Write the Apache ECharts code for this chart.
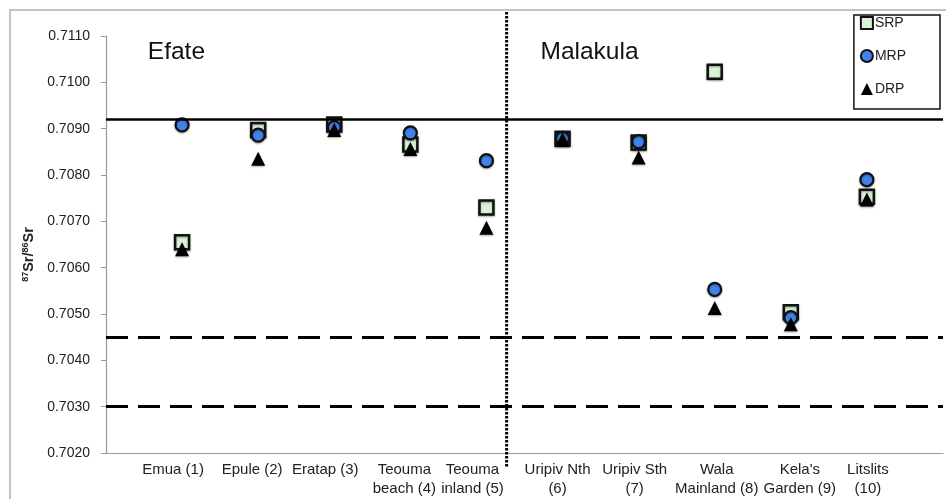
<!DOCTYPE html>
<html>
<head>
<meta charset="utf-8">
<script src="https://cdn.jsdelivr.net/npm/echarts@6/dist/echarts.min.js"></script>
<style>
html,body{margin:0;padding:0;background:#fff;}
#main{width:946px;height:499px;}
</style>
</head>
<body>
<div id="main"></div>
<script>
// ---- data ----
const categories = ['Emua (1)', 'Epule (2)', 'Eratap (3)', 'Teouma\nbeach (4)', 'Teouma\ninland (5)',
  'Uripiv Nth\n(6)', 'Uripiv Sth\n(7)', 'Wala\nMainland (8)', "Kela's\nGarden (9)", 'Litslits\n(10)'];
const srp = [0.70655, 0.70897, 0.70909, 0.70866, 0.70730, 0.70878, 0.70870, 0.71023, 0.70504, 0.70753];
const mrp = [0.70908, 0.70886, 0.70903, 0.70891, 0.70831, 0.70879, 0.70872, 0.70553, 0.70492, 0.70790];
const drp = [0.70640, 0.70835, 0.70897, 0.70856, 0.70686, 0.70877, 0.70838, 0.70513, 0.70478, 0.70747];
const seawaterLine = 0.7092;
const dashedLines = [0.7045, 0.7030];
const separatorX = 5.265;
const regionLabels = [{ text: 'Efate', x: 0.55 }, { text: 'Malakula', x: 5.71 }];

// label horizontal nudges (px), style only
const labelNudge = [-9, -6, -9, -6, -14, -5, -4, 2, 9, 1];

const font = 'Arial, "Liberation Sans", Helvetica, sans-serif';
const pts = arr => arr.map((v, i) => [i + 1, v]);

const labelRich = {};
labelNudge.forEach((d, i) => {
  labelRich['s' + i] = {
    fontSize: 15, color: '#222', fontFamily: font, lineHeight: 19,
    padding: d < 0 ? [0, -2 * d, 0, 0] : [0, 0, 0, 2 * d]
  };
});

const chart = echarts.init(document.getElementById('main'));
const option = {
  animation: false,
  backgroundColor: '#fff',
  textStyle: { fontFamily: font },
  grid: { left: 106, right: 1, top: 36, bottom: 46 },
  legend: {
    orient: 'vertical',
    right: 6, top: 15,
    padding: [1, 34, 13, 6],
    itemGap: 19,
    itemWidth: 12, itemHeight: 12,
    borderColor: '#111', borderWidth: 1.5,
    backgroundColor: '#fff',
    textStyle: { fontSize: 14, color: '#222', fontFamily: font, padding: [0, 0, 0, -3] },
    data: ['SRP', 'MRP', 'DRP']
  },
  xAxis: {
    type: 'value', min: 0, max: 11, interval: 1,
    axisLine: { show: true, lineStyle: { color: '#999', width: 1.2 } },
    axisTick: { show: false },
    splitLine: { show: false },
    axisLabel: {
      margin: 7, fontSize: 15, color: '#222', fontFamily: font, lineHeight: 19,
      rich: labelRich,
      formatter: v => {
        if (!(v >= 1 && v <= categories.length)) return '';
        const i = v - 1;
        return categories[i].split('\n').map(line => '{s' + i + '|' + line + '}').join('\n');
      }
    }
  },
  yAxis: {
    type: 'value', min: 0.7020, max: 0.7110, interval: 0.001,
    name: '{sup|87}{b|Sr/}{sup|86}{b|Sr}',
    nameLocation: 'middle', nameGap: 70,
    nameTextStyle: {
      padding: [0, 20, 0, 0],
      rich: {
        b: { fontSize: 14.5, fontWeight: 'bold', color: '#222', fontFamily: font },
        sup: { fontSize: 9, fontWeight: 'bold', color: '#222', fontFamily: font, padding: [0, 0, 6, 0] }
      }
    },
    axisLine: { show: true, lineStyle: { color: '#999', width: 1.2 } },
    axisTick: { show: true, length: 5, lineStyle: { color: '#999' } },
    splitLine: { show: false },
    axisLabel: { margin: 16, fontSize: 14, color: '#222', fontFamily: font, formatter: v => v.toFixed(4) }
  },
  series: [
    {
      name: 'SRP', type: 'scatter', symbol: 'rect', symbolSize: 14, z: 3,
      itemStyle: { color: '#d9f3d6', borderColor: '#111', borderWidth: 2.5, opacity: 1,
        shadowBlur: 2, shadowColor: 'rgba(0,0,0,0.35)', shadowOffsetY: 1 },
      data: pts(srp),
      markLine: {
        silent: true, symbol: 'none', label: { show: false }, precision: 5,
        data: [
          { yAxis: seawaterLine, lineStyle: { color: '#000', width: 2.5, type: 'solid' } },
          ...dashedLines.map(v => ({ yAxis: v, lineStyle: { color: '#000', width: 3, type: [22, 10] } }))
        ]
      }
    },
    {
      name: 'MRP', type: 'scatter', symbol: 'circle', symbolSize: 13, z: 4,
      itemStyle: { color: '#3f84ee', borderColor: '#111', borderWidth: 2.2, opacity: 1,
        shadowBlur: 2, shadowColor: 'rgba(0,0,0,0.35)', shadowOffsetY: 1 },
      data: pts(mrp)
    },
    {
      name: 'DRP', type: 'scatter', symbol: 'triangle', symbolSize: 14, z: 5,
      itemStyle: { color: '#000', opacity: 1, shadowBlur: 2, shadowColor: 'rgba(0,0,0,0.35)', shadowOffsetY: 1 },
      data: pts(drp)
    }
  ]
};
chart.setOption(option);

const sepPx = chart.convertToPixel({ xAxisIndex: 0 }, separatorX);
const topPx = chart.convertToPixel({ yAxisIndex: 0 }, 0.7110);
const graphics = [
  { type: 'rect', z: -1, silent: true, shape: { x: 10, y: 10, width: 960, height: 520 },
    style: { fill: 'none', stroke: '#b0b0b0', lineWidth: 1.5 } },
  { type: 'line', z: 10, silent: true, shape: { x1: sepPx, y1: 12, x2: sepPx, y2: 468 },
    style: { stroke: '#000', lineWidth: 3, lineDash: [2.5, 1.5] } }
];
regionLabels.forEach(r => {
  graphics.push({ type: 'text', z: 10, silent: true,
    x: chart.convertToPixel({ xAxisIndex: 0 }, r.x), y: topPx + 4,
    style: { text: r.text, fontSize: 24.5, fill: '#111', fontFamily: font } });
});
chart.setOption({ graphic: graphics });
</script>
</body>
</html>
